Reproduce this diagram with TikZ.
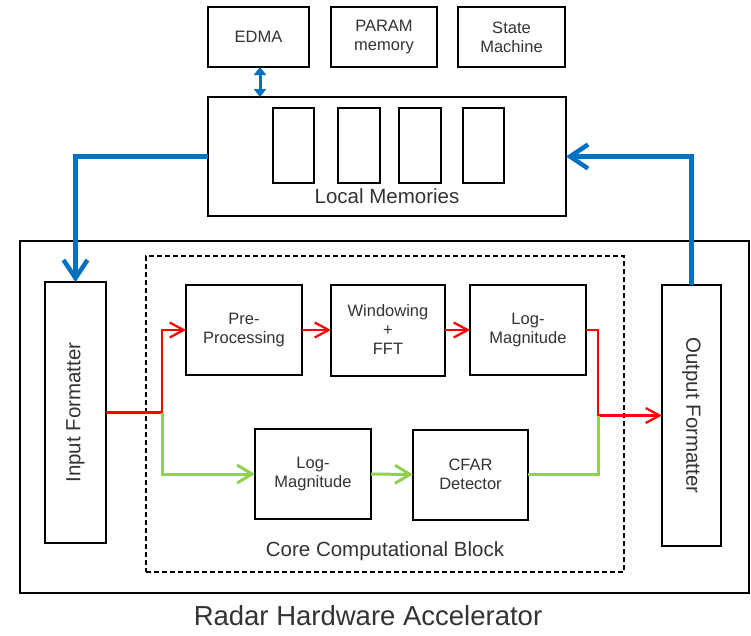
\documentclass[tikz,border=0pt]{standalone}
\usepackage{fontspec}
\setmainfont{Liberation Sans}
\usetikzlibrary{arrows.meta}
\definecolor{flowblue}{HTML}{0070C0}
\definecolor{flowred}{HTML}{FF0000}
\definecolor{flowgreen}{HTML}{92D050}
\definecolor{txt}{HTML}{333333}
\begin{document}
\begin{tikzpicture}[x=1pt,y=-1pt,
  box/.style={draw=black,line width=2pt,fill=white,inner sep=0pt,outer sep=0pt,
    align=center,text=txt,font=\fontsize{16.5}{19}\selectfont},
  bank/.style={draw=black,line width=2pt,inner sep=0pt,outer sep=0pt,
    minimum width=41pt,minimum height=75pt},
  biglabel/.style={text=txt,font=\fontsize{20.5}{24}\selectfont,inner sep=0pt},
  bluebus/.style={draw=flowblue,line width=4.5pt,
    -{Straight Barb[length=18pt,width=24pt,line width=4.5pt]}},
  redflow/.style={draw=flowred,line width=2.2pt,
    -{Straight Barb[length=14pt,width=15pt,line width=2.2pt]}},
  redline/.style={draw=flowred,line width=2.2pt},
  greenflow/.style={draw=flowgreen,line width=3pt,
    -{Straight Barb[length=15pt,width=18pt,line width=3pt]}},
  greenline/.style={draw=flowgreen,line width=3pt}]
\useasboundingbox (0,0) rectangle (751,635);

% control blocks on top
\node[box,minimum width=101pt,minimum height=60pt] (edma)  at (258.5,37) {EDMA};
\node[box,minimum width=106pt,minimum height=60pt] (param) at (384,37) {PARAM\\memory};
\node[box,minimum width=107pt,minimum height=60pt] (state) at (511.5,37) {State\\Machine};

% local memories with four banks
\node[box,minimum width=358pt,minimum height=119pt] (lmem) at (387,156.5) {};
\node[bank] (bank1) at (293.5,145.5) {};
\node[bank,minimum width=42pt] (bank2) at (359,145.5) {};
\node[bank,minimum width=42pt] (bank3) at (420,145.5) {};
\node[bank] (bank4) at (483.5,145.5) {};
\node[biglabel] (lmemlabel) at (387,196) {Local Memories};

% accelerator frame
\node[draw=black,line width=2pt,inner sep=0pt,outer sep=0pt,
  minimum width=729pt,minimum height=352pt] (accel) at (384.5,417) {};
\node[draw=black,line width=1.5pt,dash pattern=on 5pt off 3pt,inner sep=0pt,outer sep=0pt,
  minimum width=478pt,minimum height=316pt] (core) at (385,414) {};

% formatters
\node[box,minimum width=61pt,minimum height=261pt] (infmt) at (75.5,412.5) {};
\node[biglabel,rotate=90] (inlabel) at (75.5,412.5) {Input Formatter};
\node[box,minimum width=59pt,minimum height=261pt] (outfmt) at (691.5,415.5) {};
\node[biglabel,rotate=-90] (outlabel) at (691.5,415.5) {Output Formatter};

% processing chain
\node[box,minimum width=116pt,minimum height=90pt] (pre)   at (244,330) {Pre-\\Processing};
\node[box,minimum width=114pt,minimum height=91pt] (win)   at (388,330) {Windowing\\+\\FFT};
\node[box,minimum width=116pt,minimum height=90pt] (logma) at (528,330) {Log-\\Magnitude};
\node[box,minimum width=116pt,minimum height=90pt] (logmb) at (313,474) {Log-\\Magnitude};
\node[box,minimum width=115pt,minimum height=90pt] (cfar)  at (470.5,474.5) {CFAR\\Detector};

\node[biglabel] (corelabel) at (385,551) {Core Computational Block};
\node[text=txt,font=\fontsize{27.5}{32}\selectfont,inner sep=0pt] (title) at (368,616)
  {Radar Hardware Accelerator};

% branch and merge points
\coordinate (split) at (162,412.5);
\coordinate (merge) at (598,415.5);

% memory buses
\draw[bluebus] (lmem.west) -| (infmt.north);
\draw[bluebus] (outfmt.north) |- (lmem.east);
\draw[draw=flowblue,line width=3pt,
  {Triangle[length=8pt,width=12pt]}-{Triangle[length=8pt,width=12pt]}]
  ([xshift=1.5pt]edma.south) -- ([xshift=1.5pt]edma.south |- lmem.north);

% red path through the FFT chain
\draw[redline] (infmt.east) -- (split);
\draw[redflow] (split) |- (pre.west);
\draw[redflow] (pre.east) -- (win.west);
\draw[redflow] (win.east) -- (logma.west);
\draw[redline] (logma.east) -| (merge);
\draw[redflow] (merge) -- (outfmt.west);

% green path through detection
\draw[greenflow] (split) |- (logmb.west);
\draw[greenflow] (logmb.east) -- (cfar.west);
\draw[greenline] (cfar.east) -| (merge);
\end{tikzpicture}
\end{document}
